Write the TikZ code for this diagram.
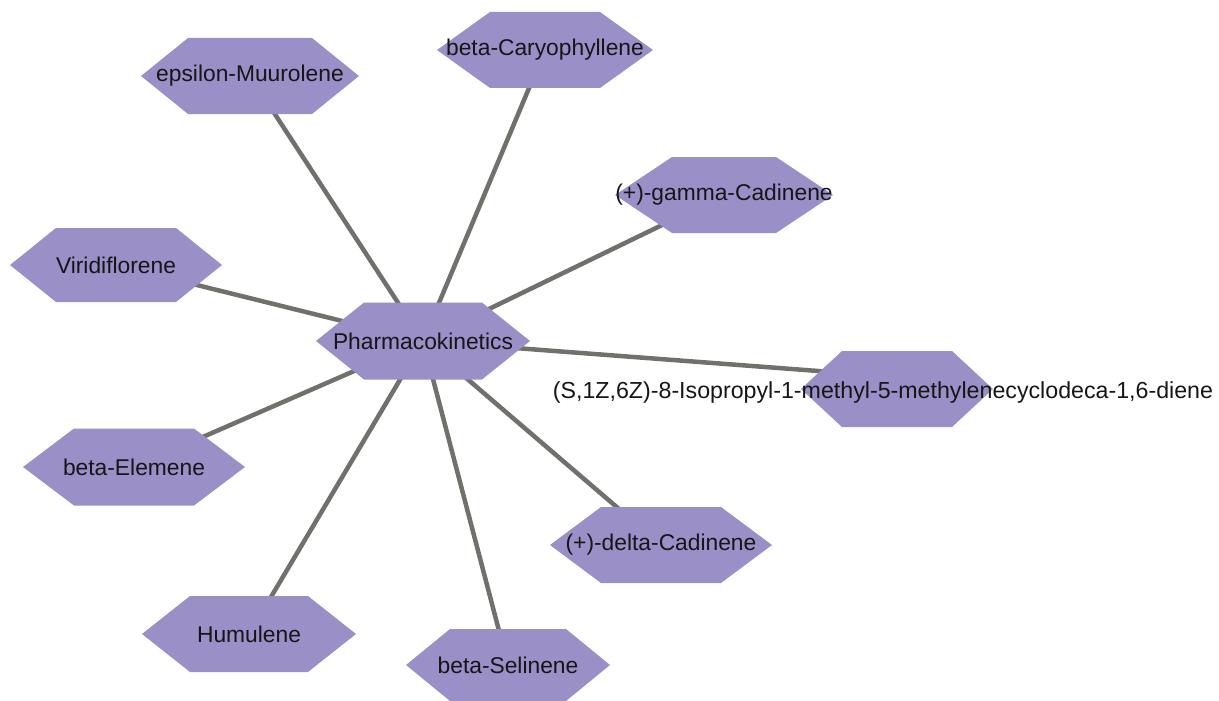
\documentclass[tikz,border=0pt]{standalone}
\usepackage{fontspec}
\setmainfont{Liberation Sans}
\usetikzlibrary{backgrounds}
\definecolor{hexfill}{RGB}{154,143,199}
\definecolor{edgegray}{RGB}{112,112,108}
\definecolor{txtcol}{RGB}{22,22,22}
\newcommand\hexat[4]{% name, halfwidth, top half, half height
  \fill[hexfill] ([xshift=-#2pt]#1.center) -- ++({#2-#3},-#4) -- ++({2*#3},0) -- ++({#2-#3},#4)
     -- ++({#3-#2},#4) -- ++({-2*#3},0) -- cycle;}
\begin{document}
\begin{tikzpicture}[x=1pt,y=-1pt,
  lbl/.style={text=txtcol,font=\fontsize{22.8}{27}\selectfont,inner sep=0pt},
  edge/.style={draw=edgegray,line width=4.5pt}]
\useasboundingbox (0,0) rectangle (1219,701);
\node[lbl] (pk)  at (423,341) {Pharmacokinetics};
\node[lbl] (eps) at (250,76)  {epsilon-Muurolene};
\node[lbl] (bcar) at (545,50) {beta-Caryophyllene};
\node[lbl] (gam) at (724,195) {(+)-gamma-Cadinene};
\node[lbl] (vir) at (116,265) {Viridiflorene};
\coordinate (sm) at (897,389);
\node[lbl,font=\fontsize{23.2}{27}\selectfont] (smlabel) at (883,392) {(S,1Z,6Z)-8-Isopropyl-1-methyl-5-methylenecyclodeca-1,6-diene};
\node[lbl] (bel) at (134,467) {beta-Elemene};
\node[lbl] (del) at (661,545) {(+)-delta-Cadinene};
\node[lbl] (hum) at (249,634) {Humulene};
\node[lbl] (bsel) at (508,665) {beta-Selinene};
\begin{scope}[on background layer]
  \foreach \n in {eps,bcar,gam,vir,bel,del,hum,bsel}
    \draw[edge] (pk.center) -- (\n.center);
  \draw[edge] (pk.center) -- ([yshift=12pt]sm);
  \hexat{pk}{107}{59}{38.5}
  \hexat{eps}{109}{62}{38}
  \hexat{bcar}{108}{55}{38}
  \hexat{gam}{109}{52}{38}
  \hexat{vir}{106}{60}{37}
  \hexat{sm}{96}{55}{38}
  \hexat{bel}{111}{60}{38.5}
  \hexat{del}{111}{60}{38}
  \hexat{hum}{107}{59}{38}
  \hexat{bsel}{102}{58}{36}
\end{scope}
\end{tikzpicture}
\end{document}
